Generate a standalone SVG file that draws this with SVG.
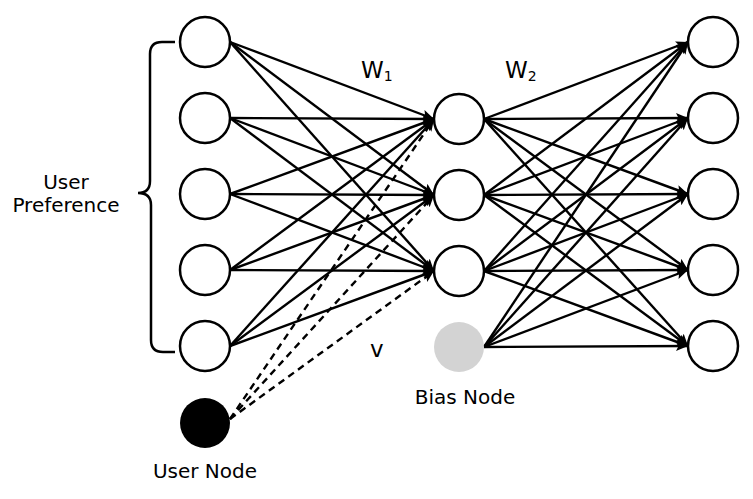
<svg xmlns="http://www.w3.org/2000/svg" width="753" height="499" viewBox="0 0 753 499">
<style>
.e{stroke:#000;stroke-width:2.4;fill:none;marker-end:url(#ah)}
.d{stroke:#000;stroke-width:2.4;fill:none;stroke-dasharray:7 5;marker-end:url(#ah)}
.n{fill:#fff;stroke:#000;stroke-width:2.5}
.t{font-family:"DejaVu Sans",Verdana,sans-serif;font-size:20px;fill:#000}
.w{font-family:"DejaVu Sans",Verdana,sans-serif;font-size:23px;fill:#000}
.s{font-size:14px}
</style>
<defs>
<marker id="ah" markerUnits="userSpaceOnUse" markerWidth="13" markerHeight="11" refX="12" refY="5" orient="auto">
<path d="M0,0 L12,5 L0,10 L2.5,5 z" fill="#000"/>
</marker>
</defs>
<rect width="753" height="499" fill="#fff"/>
<g id="connectors">
<line class="e" x1="230" y1="42" x2="434" y2="119"/>
<line class="e" x1="230" y1="42" x2="434" y2="195"/>
<line class="e" x1="230" y1="42" x2="434" y2="271"/>
<line class="e" x1="230" y1="118" x2="434" y2="119"/>
<line class="e" x1="230" y1="118" x2="434" y2="195"/>
<line class="e" x1="230" y1="118" x2="434" y2="271"/>
<line class="e" x1="230" y1="194" x2="434" y2="119"/>
<line class="e" x1="230" y1="194" x2="434" y2="195"/>
<line class="e" x1="230" y1="194" x2="434" y2="271"/>
<line class="e" x1="230" y1="270" x2="434" y2="119"/>
<line class="e" x1="230" y1="270" x2="434" y2="195"/>
<line class="e" x1="230" y1="270" x2="434" y2="271"/>
<line class="e" x1="230" y1="346" x2="434" y2="119"/>
<line class="e" x1="230" y1="346" x2="434" y2="195"/>
<line class="e" x1="230" y1="346" x2="434" y2="271"/>
<line class="d" x1="230" y1="419" x2="434" y2="119"/>
<line class="d" x1="230" y1="419" x2="434" y2="195"/>
<line class="d" x1="230" y1="419" x2="434" y2="271"/>
<line class="e" x1="484" y1="119" x2="688" y2="42"/>
<line class="e" x1="484" y1="119" x2="688" y2="118"/>
<line class="e" x1="484" y1="119" x2="688" y2="194"/>
<line class="e" x1="484" y1="119" x2="688" y2="270"/>
<line class="e" x1="484" y1="119" x2="688" y2="346"/>
<line class="e" x1="484" y1="195" x2="688" y2="42"/>
<line class="e" x1="484" y1="195" x2="688" y2="118"/>
<line class="e" x1="484" y1="195" x2="688" y2="194"/>
<line class="e" x1="484" y1="195" x2="688" y2="270"/>
<line class="e" x1="484" y1="195" x2="688" y2="346"/>
<line class="e" x1="484" y1="271" x2="688" y2="42"/>
<line class="e" x1="484" y1="271" x2="688" y2="118"/>
<line class="e" x1="484" y1="271" x2="688" y2="194"/>
<line class="e" x1="484" y1="271" x2="688" y2="270"/>
<line class="e" x1="484" y1="271" x2="688" y2="346"/>
<line class="e" x1="484" y1="347" x2="688" y2="42"/>
<line class="e" x1="484" y1="347" x2="688" y2="118"/>
<line class="e" x1="484" y1="347" x2="688" y2="194"/>
<line class="e" x1="484" y1="347" x2="688" y2="270"/>
<line class="e" x1="484" y1="347" x2="688" y2="346"/>
</g>
<g id="input-layer">
<circle id="in1" class="n" cx="205" cy="42" r="25"/>
<circle id="in2" class="n" cx="205" cy="118" r="25"/>
<circle id="in3" class="n" cx="205" cy="194" r="25"/>
<circle id="in4" class="n" cx="205" cy="270" r="25"/>
<circle id="in5" class="n" cx="205" cy="346" r="25"/>
</g>
<g id="hidden-layer">
<circle id="h1" class="n" cx="459" cy="119" r="25"/>
<circle id="h2" class="n" cx="459" cy="195" r="25"/>
<circle id="h3" class="n" cx="459" cy="271" r="25"/>
</g>
<g id="output-layer">
<circle id="out1" class="n" cx="713" cy="42" r="25"/>
<circle id="out2" class="n" cx="713" cy="118" r="25"/>
<circle id="out3" class="n" cx="713" cy="194" r="25"/>
<circle id="out4" class="n" cx="713" cy="270" r="25"/>
<circle id="out5" class="n" cx="713" cy="346" r="25"/>
</g>
<g id="bias-node">
<circle cx="459" cy="347" r="25" fill="#d3d3d3"/>
<text class="t" x="465" y="404" text-anchor="middle">Bias Node</text>
</g>
<g id="user-node">
<circle cx="205" cy="423" r="25" fill="#000"/>
<text class="t" x="205" y="478" text-anchor="middle">User Node</text>
</g>
<g id="user-preference">
<path d="M175,42 H162 Q150,42 150,54 V181 Q150,193 138,193 Q151,193 151,205 V340 Q151,352 163,352 H175" fill="none" stroke="#000" stroke-width="2.5"/>
<text class="t" x="66" y="189" text-anchor="middle">User</text>
<text class="t" x="66" y="212" text-anchor="middle">Preference</text>
</g>
<g id="labels">
<text class="w" x="361" y="78">W<tspan class="s" dy="3">1</tspan></text>
<text class="w" x="505" y="78">W<tspan class="s" dy="3">2</tspan></text>
<text class="w" x="370" y="357">v</text>
</g>
</svg>
